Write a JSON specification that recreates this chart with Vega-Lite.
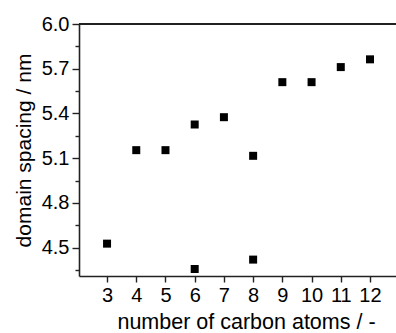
{
  "$schema": "https://vega.github.io/schema/vega-lite/v6.json",
  "width": 317,
  "height": 252,
  "autosize": "none",
  "padding": {"left": 79, "top": 24, "right": 0, "bottom": 57},
  "background": "white",
  "config": {
    "view": {"stroke": null},
    "axis": {"labelFont": "Liberation Sans", "titleFont": "Liberation Sans", "labelColor": "black", "titleColor": "black", "titleFontWeight": "normal", "domainColor": "#222", "tickColor": "#222", "domainWidth": 1.6, "tickWidth": 1.4, "grid": false}
  },
  "data": {"values": [
    {"carbons": 3, "spacing": 4.527},
    {"carbons": 4, "spacing": 5.154},
    {"carbons": 5, "spacing": 5.154},
    {"carbons": 6, "spacing": 5.326},
    {"carbons": 6, "spacing": 4.357},
    {"carbons": 7, "spacing": 5.375},
    {"carbons": 8, "spacing": 5.116},
    {"carbons": 8, "spacing": 4.42},
    {"carbons": 9, "spacing": 5.61},
    {"carbons": 10, "spacing": 5.61},
    {"carbons": 11, "spacing": 5.711},
    {"carbons": 12, "spacing": 5.763}
  ]},
  "layer": [
    {
      "mark": {"type": "point", "shape": "square", "filled": true, "size": 64, "color": "black", "opacity": 1},
      "encoding": {
        "x": {"field": "carbons", "type": "quantitative",
          "scale": {"domain": [2.04, 12.89], "nice": false, "zero": false},
          "axis": {"title": "number of carbon atoms / -", "values": [3,4,5,6,7,8,9,10,11,12], "labelFontSize": 20, "titleFontSize": 21.5, "tickSize": 6, "labelPadding": 3, "titlePadding": 6, "titleX": 167, "labelFlush": false, "labelOverlap": false}},
        "y": {"field": "spacing", "type": "quantitative",
          "scale": {"domain": [4.31, 6.0], "nice": false, "zero": false},
          "axis": {"title": "domain spacing / nm",
            "values": [4.5, 4.8, 5.1, 5.4, 5.7, 6.0],
            "format": ".1f",
            "tickSize": 7,
            "labelFontSize": 20, "titleFontSize": 21, "labelPadding": 3, "titlePadding": 7, "labelFlush": false, "labelOverlap": false}}
      }
    },
    {
      "mark": {"type": "rule", "color": "#222", "strokeWidth": 1.6},
      "encoding": {"y": {"datum": 6.0, "type": "quantitative", "axis": null}}
    },
    {
      "mark": {"type": "rule", "color": "#222", "strokeWidth": 1.6},
      "encoding": {"y": {"datum": 4.35, "type": "quantitative", "axis": {"title": null, "orient": "left", "values": [4.35, 4.65, 4.95, 5.25, 5.55, 5.85], "labels": false, "tickSize": 4, "domain": false}}, "opacity": {"value": 0}}
    }
  ],
  "resolve": {"axis": {"y": "independent"}}
}
